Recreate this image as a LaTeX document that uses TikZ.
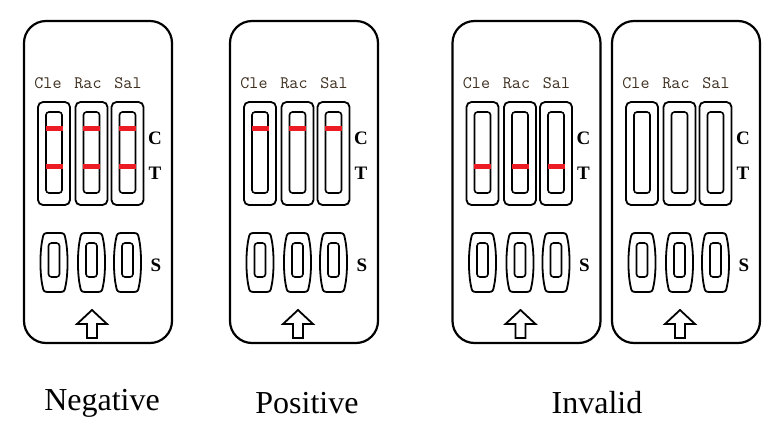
\documentclass[tikz,border=0pt]{standalone}
\usepackage{fontspec}
\setmainfont{Liberation Serif}
\usetikzlibrary{positioning}
\definecolor{bandred}{RGB}{237,28,36}
\definecolor{drugtext}{RGB}{60,45,30}
\tikzset{
  cardbox/.style={line width=2.2pt, rounded corners=22pt},
  stripbox/.style={line width=1.8pt, rounded corners=5pt},
  windowbox/.style={line width=1.6pt, rounded corners=3pt},
  wellbox/.style={line width=1.8pt},
  band/.style={bandred, line width=5pt},
  drugname/.style={text=drugtext, font=\ttfamily\fontsize{17.5}{18}\selectfont, inner sep=0pt},
  zonename/.style={font=\bfseries\fontsize{19}{19}\selectfont, inner sep=0pt},
  result/.style={font=\fontsize{32}{32}\selectfont, inner sep=0pt}
}
% #1 name, #2 left edge, #3 C band (1/0), #4 T band (1/0)
\newcommand\testcard[4]{%
  \begin{scope}[shift={(#2,21)}]
    \draw[cardbox] (0,0) rectangle (148,322);
    \foreach \n/\x/\lx in {Cle/30/24,Rac/67.5/64,Sal/103.5/104}{
      \node[drugname] (#1-\n) at (\lx,62) {\n};
      \draw[stripbox] (\x-16,81) rectangle (\x+16,184);
      \draw[windowbox] (\x-8,91) rectangle (\x+8,172);
      \ifnum#3=1 \draw[band] (\x-8.5,107) -- (\x+8.5,107); \fi
      \ifnum#4=1 \draw[band] (\x-8.5,145) -- (\x+8.5,145); \fi
      % sample well
      \draw[wellbox] (\x-6,212) -- (\x+6,212)
        .. controls (\x+9.5,212) and (\x+10.8,213) .. (\x+11.3,217)
        .. controls (\x+14.3,230) and (\x+14.3,253) .. (\x+11.3,266)
        .. controls (\x+10.8,270) and (\x+9.5,271) .. (\x+6,271)
        -- (\x-6,271)
        .. controls (\x-9.5,271) and (\x-10.8,270) .. (\x-11.3,266)
        .. controls (\x-14.3,253) and (\x-14.3,230) .. (\x-11.3,217)
        .. controls (\x-10.8,213) and (\x-9.5,212) .. cycle;
      \draw[windowbox] (\x-5.5,222) rectangle (\x+5.5,256);
    }
    \node[zonename] (#1-C) at (131,117.5) {C};
    \node[zonename] (#1-T) at (131,152.5) {T};
    \node[zonename] (#1-S) at (132,244) {S};
    \draw[line width=1.8pt, line join=miter] (68,289) -- (83,303) -- (73,303) -- (73,317)
      -- (63,317) -- (63,303) -- (53,303) -- cycle;
  \end{scope}}

\begin{document}
\begin{tikzpicture}[x=1pt, y=-1pt]
  \useasboundingbox (0,0) rectangle (780,437);
  \testcard{neg}{24}{1}{1}
  \testcard{pos}{230}{1}{0}
  \testcard{inva}{452.5}{0}{1}
  \testcard{invb}{612}{0}{0}
  \node[result] (negative) at (102,403) {Negative};
  \node[result] (positive) at (307,403) {Positive};
  \node[result] (invalid) at (597,403) {Invalid};
\end{tikzpicture}
\end{document}
